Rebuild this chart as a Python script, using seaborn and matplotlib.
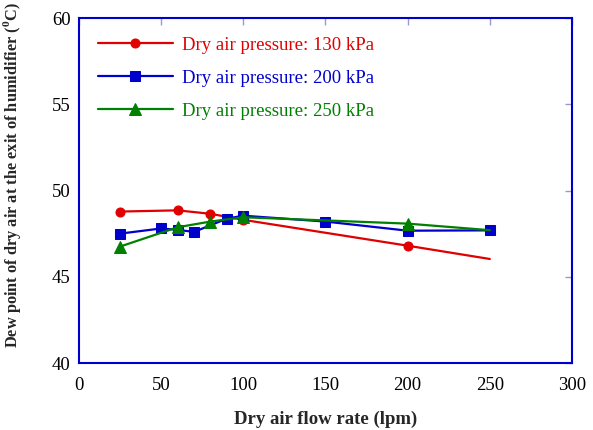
import matplotlib
matplotlib.use("Agg")
import matplotlib.pyplot as plt
import seaborn as sns
import pandas as pd

# Data
x_130 = [25, 60, 80, 100, 200, 250]
y_130 = [48.78, 48.85, 48.65, 48.3, 46.8, 46.03]

x_200 = [25, 50, 60, 70, 90, 100, 150, 200, 250]
y_200 = [47.5, 47.8, 47.72, 47.6, 48.37, 48.54, 48.2, 47.67, 47.69]

x_250 = [25, 60, 80, 100, 200, 250]
y_250 = [46.75, 47.87, 48.2, 48.45, 48.08, 47.7]

labels = ["Dry air pressure: 130 kPa", "Dry air pressure: 200 kPa", "Dry air pressure: 250 kPa"]
x_ticks = [0, 50, 100, 150, 200, 250, 300]
y_ticks = [40, 45, 50, 55, 60]

sns.set_style("white")
plt.rcParams["font.family"] = ["Liberation Serif", "DejaVu Serif"]
plt.rcParams["mathtext.fontset"] = "custom"
plt.rcParams["mathtext.rm"] = "Liberation Serif:bold"

fig = plt.figure(figsize=(5.93, 4.30), dpi=100)
ax = fig.add_axes([0.1332, 0.1558, 0.8314, 0.8023])

red, blue, green = "#E00000", "#0000CC", "#008000"
series = [
    (x_130, y_130, red, "o", 6.5, [0, 1, 2, 3, 4]),
    (x_200, y_200, blue, "s", 6.5, None),
    (x_250, y_250, green, "^", 8.5, [0, 1, 2, 3, 4]),
]
for (xs, ys, c, m, ms, me), lab in zip(series, labels):
    df = pd.DataFrame({"x": xs, "y": ys})
    sns.lineplot(data=df, x="x", y="y", ax=ax, color=c, marker=m, markersize=ms,
                 markeredgecolor=c, markerfacecolor=c, linewidth=1.6,
                 markevery=me, label=lab, sort=False, estimator=None)

ax.set_xlim(0, 300)
ax.set_ylim(40, 60)
ax.set_xticks(x_ticks)
ax.set_yticks(y_ticks)
ax.tick_params(direction="in", length=5, width=1, color="#9999CC",
               top=True, right=True, labelsize=13.5, labelcolor="black")
ax.tick_params(axis="x", pad=10)
ax.tick_params(axis="y", pad=6)
for s in ax.spines.values():
    s.set_color("#0000CC")
    s.set_linewidth(1.5)
    s.set_visible(True)

ax.set_xlabel("Dry air flow rate (lpm)", fontsize=13.5, fontweight="bold", labelpad=12)
ax.set_ylabel(r"Dew point of dry air at the exit of humidifier ($^{0}$C)", fontsize=11.8,
              fontweight="bold")
ax.yaxis.set_label_coords(-0.114, 0.545)

leg = ax.legend(loc="upper left", frameon=False, fontsize=13.5, handlelength=4.0,
                handletextpad=0.5, labelspacing=0.85, borderaxespad=0.6,
                bbox_to_anchor=(0.0, 1.0))
for txt, c in zip(leg.get_texts(), [red, blue, green]):
    txt.set_color(c)

fig.savefig("out.png", dpi=100)
